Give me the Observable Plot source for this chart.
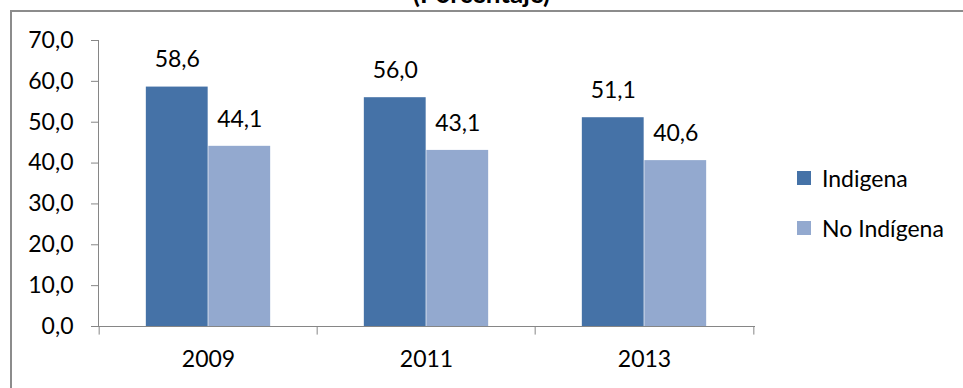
<!DOCTYPE html>
<html>
<head>
<meta charset="utf-8">
<script src="https://cdn.jsdelivr.net/npm/d3@7"></script>
<script src="https://cdn.jsdelivr.net/npm/@observablehq/plot@0.6"></script>
<style>
  html, body { margin: 0; padding: 0; background: #fff; }
  #wrap { position: relative; width: 963px; height: 388px; overflow: hidden; font-family: Lato, "Open Sans", sans-serif; }
  #border { position: absolute; left: 10px; top: 10px; width: 1200px; height: 600px; border-top: 2px solid #8c8c8c; border-left: 2px solid #8c8c8c; box-sizing: border-box; }
  #title { position: absolute; left: 0; width: 963px; top: -20px; text-align: center; font-weight: bold; font-size: 26px; line-height: 26px; color: #000; }
  #chart { position: absolute; left: 0; top: 0; }
  #legend { position: absolute; left: 797px; top: 163px; font-size: 23px; color: #000; }
  .item { display: flex; align-items: center; height: 30px; margin-bottom: 20px; }
  .sw { width: 14px; height: 14px; margin-right: 11px; }
</style>
</head>
<body>
<div id="wrap">
  <div id="border"></div>
  <div id="title">(Porcentaje)</div>
  <div id="chart"></div>
  <div id="legend"></div>
</div>
<script>
const years = ["2009", "2011", "2013"];
const series = ["Indigena", "No Indígena"];
const indigena = [58.6, 56.0, 51.1];
const noIndigena = [44.1, 43.1, 40.6];
const colors = ["#4572A7", "#93A9CF"];
const yTicks = [0, 10, 20, 30, 40, 50, 60, 70];

const fmt = v => v.toFixed(1).replace(".", ",");
const rowsA = years.map((y, i) => ({year: y, series: series[0], value: indigena[i]}));
const rowsB = years.map((y, i) => ({year: y, series: series[1], value: noIndigena[i]}));

const W = 963, H = 388;
const mL = 98, mR = 209, mT = 40, mB = 62;
const band = (W - mL - mR) / years.length;
const barW = 62.5;
const outer = band / 2 - barW;

const axisColor = "#868686";

const chart = Plot.plot({
  width: W,
  height: H,
  marginLeft: mL,
  marginRight: mR,
  marginTop: mT,
  marginBottom: mB,
  style: {fontFamily: "Lato, 'Open Sans', sans-serif", fontSize: "23px", color: "#000", background: "transparent", overflow: "visible"},
  x: {domain: years, padding: 0, label: null},
  y: {domain: [0, 70], label: null},
  color: {domain: series, range: colors},
  marks: [
    Plot.barY(rowsA, {x: "year", y: "value", fill: "series", insetLeft: outer, insetRight: band / 2}),
    Plot.barY(rowsB, {x: "year", y: "value", fill: "series", insetLeft: band / 2, insetRight: outer}),
    Plot.text(rowsA, {x: "year", y: "value", text: d => fmt(d.value), dx: -barW / 2, dy: -27, fill: "#000"}),
    Plot.text(rowsB, {x: "year", y: "value", text: d => fmt(d.value), dx: barW / 2, dy: -27, fill: "#000"}),
    Plot.axisY({ticks: yTicks, tickFormat: fmt, tickSize: 7, tickPadding: 18, stroke: axisColor, fill: "#000", label: null}),
    Plot.axisX({tickSize: 0, tickPadding: 24, fill: "#000", label: null}),
    Plot.ruleX(years, {x: d => d, dx: -band / 2, y1: 0, y2: -2.1, stroke: axisColor, clip: false}),
    Plot.ruleX(years.slice(-1), {x: d => d, dx: band / 2, y1: 0, y2: -2.1, stroke: axisColor, clip: false}),
    Plot.frame({anchor: "left", stroke: axisColor}),
    Plot.frame({anchor: "bottom", stroke: axisColor})
  ]
});
document.getElementById("chart").appendChild(chart);

const legend = document.getElementById("legend");
series.forEach((s, i) => {
  const item = document.createElement("div");
  item.className = "item";
  const sw = document.createElement("div");
  sw.className = "sw";
  sw.style.background = colors[i];
  const t = document.createElement("span");
  t.textContent = s;
  item.appendChild(sw);
  item.appendChild(t);
  legend.appendChild(item);
});
</script>
</body>
</html>
